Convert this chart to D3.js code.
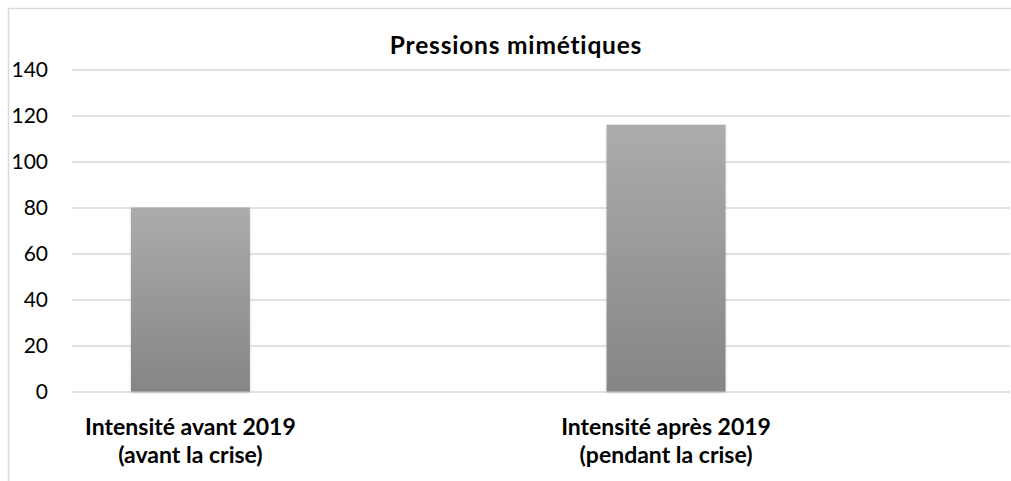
<!DOCTYPE html>
<html>
<head>
<meta charset="utf-8">
<script src="https://cdn.jsdelivr.net/npm/d3@7"></script>
<style>
  html, body { margin: 0; padding: 0; background: #fff; }
  svg { display: block; }
</style>
</head>
<body>
<svg id="chart" width="1011" height="481"></svg>
<script>
// Chart content
const title = "Pressions mimétiques";
const categories = ["Intensité avant 2019", "Intensité après 2019"];
const subLabels = ["(avant la crise)", "(pendant la crise)"];
const values = [80, 116];
const yTicks = [0, 20, 40, 60, 80, 100, 120, 140];

const W = 1011, H = 481;
const svg = d3.select("#chart");
const font = "Lato, 'Open Sans', sans-serif";

// Outer frame (top and left edges visible)
svg.append("path")
  .attr("d", `M8.5,${H} L8.5,8.5 L${W},8.5`)
  .attr("fill", "none")
  .attr("stroke", "#d9d9d9")
  .attr("stroke-width", 1.5);

const y = d3.scaleLinear().domain([0, 140]).range([391.5, 69.5]);
const x = d3.scaleBand().domain(categories).range([131, 725.5])
  .paddingInner(0.75).paddingOuter(0);

const gridX0 = 72, gridX1 = 1010;

// Gradient fill for bars
const defs = svg.append("defs");
const grad = defs.append("linearGradient")
  .attr("id", "barGrad").attr("x1", 0).attr("y1", 0).attr("x2", 0).attr("y2", 1);
grad.append("stop").attr("offset", "0%").attr("stop-color", "#acacac");
grad.append("stop").attr("offset", "100%").attr("stop-color", "#858585");

const shadow = defs.append("filter").attr("id", "barShadow")
  .attr("x", "-10%").attr("y", "-10%").attr("width", "120%").attr("height", "120%");
shadow.append("feDropShadow")
  .attr("dx", 0).attr("dy", 1).attr("stdDeviation", 1.2)
  .attr("flood-color", "#000").attr("flood-opacity", 0.22);

// Y axis with gridlines
const yAxis = d3.axisLeft(y).tickValues(yTicks).tickSize(-(gridX1 - gridX0)).tickPadding(24);
const gy = svg.append("g").attr("transform", `translate(${gridX0},0)`).call(yAxis);
gy.select(".domain").remove();
gy.selectAll(".tick line").attr("stroke", "#d9d9d9").attr("stroke-width", 1.5);
gy.selectAll(".tick text")
  .attr("font-family", font).attr("font-size", 21).attr("fill", "#000");

// Bars
svg.append("g").selectAll("rect")
  .data(values)
  .join("rect")
  .attr("x", (d, i) => x(categories[i]))
  .attr("y", d => y(d))
  .attr("width", x.bandwidth())
  .attr("height", d => y(0) - y(d))
  .attr("fill", "url(#barGrad)")
  .attr("filter", "url(#barShadow)");

// Category labels, two lines each
const lines = [categories, subLabels];
const baselines = [435, 463];
lines.forEach((texts, li) => {
  svg.append("g").selectAll("text")
    .data(texts)
    .join("text")
    .attr("x", (d, i) => x(categories[i]) + x.bandwidth() / 2)
    .attr("y", baselines[li])
    .attr("text-anchor", "middle")
    .attr("font-family", font).attr("font-weight", "bold").attr("font-size", 23)
    .attr("fill", "#000")
    .text(d => d);
});

// Title
svg.append("text")
  .attr("x", 516).attr("y", 53.5)
  .attr("text-anchor", "middle")
  .attr("font-family", font).attr("font-weight", "bold").attr("font-size", 24.5)
  .attr("letter-spacing", 0.8)
  .attr("fill", "#000")
  .text(title);
</script>
</body>
</html>
